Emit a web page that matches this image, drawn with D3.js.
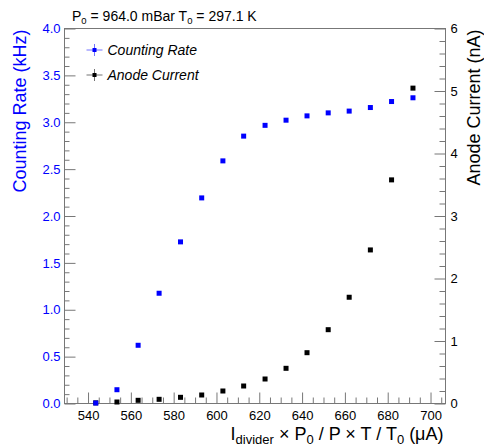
<!DOCTYPE html>
<html><head><meta charset="utf-8">
<script src="https://cdn.jsdelivr.net/npm/d3@7"></script>
<style>
body{margin:0;background:#fff;}
svg{display:block;font-family:"Liberation Sans",Arial,Helvetica,sans-serif;}
</style></head>
<body><svg id="c" width="484" height="446"></svg>
<script>
const xVals = [543.6, 553.5, 563.4, 573.2, 583.2, 593.1, 603.0, 612.7, 622.7, 632.5, 642.3, 652.2, 662.0, 671.9, 681.8, 691.8];
const countingRate = [0.005, 0.147, 0.621, 1.176, 1.724, 2.193, 2.588, 2.852, 2.967, 3.022, 3.068, 3.100, 3.119, 3.157, 3.221, 3.261];
const anodeCurrent = [0.01, 0.024, 0.051, 0.067, 0.099, 0.136, 0.200, 0.280, 0.392, 0.563, 0.813, 1.181, 1.700, 2.457, 3.578, 5.046];
const xTickLabels = [540, 560, 580, 600, 620, 640, 660, 680, 700];
const yLeftTickLabels = ["0.0","0.5","1.0","1.5","2.0","2.5","3.0","3.5","4.0"];
const yRightTickLabels = [0,1,2,3,4,5,6];

const svg = d3.select("#c");
const L = 64.5, R = 445.5, T = 28.5, B = 403.5;
const x = d3.scaleLinear().domain([529, 707]).range([L, R]);
const yL = d3.scaleLinear().domain([0, 4]).range([B, T]);
const yR = d3.scaleLinear().domain([0, 6]).range([B, T]);
const axisColor = "#777";
const font = '"Liberation Sans",Arial,Helvetica,sans-serif';

// frame
svg.append("rect").attr("x", L).attr("y", T).attr("width", R - L).attr("height", B - T)
  .attr("fill", "none").attr("stroke", axisColor).attr("stroke-width", 1);

// X axis ticks
const xMinor = d3.range(530, 707.1, 5).filter(v => v % 20 !== 0);
const gx = svg.append("g").attr("transform", `translate(0,${B})`);
gx.call(d3.axisBottom(x).tickValues(xTickLabels).tickSize(-11).tickSizeOuter(0).tickPadding(7).tickFormat(d3.format("d")));
const gxm = svg.append("g").attr("transform", `translate(0,${B})`);
gxm.call(d3.axisBottom(x).tickValues(xMinor).tickSize(-6).tickSizeOuter(0).tickFormat(""));

// left axis ticks
const yLMinor = d3.range(0, 4.001, 0.1).filter(v => Math.abs(v * 2 - Math.round(v * 2)) > 1e-6);
const gl = svg.append("g").attr("transform", `translate(${L},0)`);
gl.call(d3.axisLeft(yL).tickValues(yLeftTickLabels.map(Number)).tickSize(-11).tickSizeOuter(0).tickPadding(4).tickFormat(d3.format(".1f")));
const glm = svg.append("g").attr("transform", `translate(${L},0)`);
glm.call(d3.axisLeft(yL).tickValues(yLMinor).tickSize(-5).tickSizeOuter(0).tickFormat(""));

// right axis ticks
const yRMinor = d3.range(0, 6.001, 0.2).filter(v => Math.abs(v - Math.round(v)) > 1e-6);
const gr = svg.append("g").attr("transform", `translate(${R},0)`);
gr.call(d3.axisRight(yR).tickValues(yRightTickLabels).tickSize(-11).tickSizeOuter(0).tickPadding(5).tickFormat(d3.format("d")));
const grm = svg.append("g").attr("transform", `translate(${R},0)`);
grm.call(d3.axisRight(yR).tickValues(yRMinor).tickSize(-6).tickSizeOuter(0).tickFormat(""));

svg.selectAll("g .domain").remove();
svg.selectAll("g .tick line").attr("stroke", axisColor);
svg.selectAll("g text").attr("font-size", 13).attr("font-family", font);
gx.selectAll("text").attr("fill", "#000");
gl.selectAll("text").attr("fill", "#0000ff");
gr.selectAll("text").attr("fill", "#000");

// data markers
const ms = 5;
svg.append("g").selectAll("rect").data(xVals.map((v, i) => [v, anodeCurrent[i]])).join("rect")
  .attr("x", d => x(d[0]) - ms / 2).attr("y", d => yR(d[1]) - ms / 2)
  .attr("width", ms).attr("height", ms).attr("fill", "#000");
svg.append("g").selectAll("rect").data(xVals.map((v, i) => [v, countingRate[i]])).join("rect")
  .attr("x", d => x(d[0]) - ms / 2).attr("y", d => yL(d[1]) - ms / 2)
  .attr("width", ms).attr("height", ms).attr("fill", "#0000ff");

// legend
const legend = [{name: "Counting Rate", color: "#0000ff", y: 50}, {name: "Anode Current", color: "#000", y: 75}];
const lg = svg.append("g");
legend.forEach(d => {
  lg.append("line").attr("x1", 86.5).attr("x2", 102.5).attr("y1", d.y).attr("y2", d.y)
    .attr("stroke", d.color).attr("stroke-opacity", 0.55);
  lg.append("line").attr("x1", 94.5).attr("x2", 94.5).attr("y1", d.y - 6).attr("y2", d.y + 6)
    .attr("stroke", d.color).attr("stroke-opacity", 0.55);
  lg.append("rect").attr("x", 94.5 - 2).attr("y", d.y - 2).attr("width", 4).attr("height", 4).attr("fill", d.color);
  lg.append("text").attr("x", 107.5).attr("y", d.y + 5).attr("font-size", 14).attr("font-style", "italic")
    .attr("font-family", font).attr("fill", "#000").text(d.name);
});

// title
const title = svg.append("text").attr("x", 72).attr("y", 21).attr("font-size", 14).attr("font-family", font).attr("fill", "#000");
title.append("tspan").text("P");
title.append("tspan").attr("font-size", 9.5).attr("dy", 3).text("0");
title.append("tspan").attr("dy", -3).text(" = 964.0 mBar T");
title.append("tspan").attr("font-size", 9.5).attr("dy", 3).text("0");
title.append("tspan").attr("dy", -3).text(" = 297.1 K");

// left axis title
svg.append("text").attr("transform", `translate(26,${T + 1}) rotate(-90)`).attr("text-anchor", "end")
  .attr("font-size", 18).attr("font-family", font).attr("fill", "#0000ff").text("Counting Rate (kHz)");

// right axis title
svg.append("text").attr("transform", `translate(479.5,${T + 1}) rotate(-90)`).attr("text-anchor", "end")
  .attr("font-size", 18).attr("font-family", font).attr("fill", "#000").text("Anode Current (nA)");

// x axis title
const xt = svg.append("text").attr("x", R - 2).attr("y", 440).attr("text-anchor", "end")
  .attr("font-size", 18).attr("font-family", font).attr("fill", "#000");
xt.append("tspan").text("I");
xt.append("tspan").attr("font-size", 13).attr("dy", 4).text("divider");
xt.append("tspan").attr("dy", -4).text(" × P");
xt.append("tspan").attr("font-size", 13).attr("dy", 4).text("0");
xt.append("tspan").attr("dy", -4).text(" / P × T / T");
xt.append("tspan").attr("font-size", 13).attr("dy", 4).text("0");
xt.append("tspan").attr("dy", -4).text(" (μA)");
</script></body></html>
